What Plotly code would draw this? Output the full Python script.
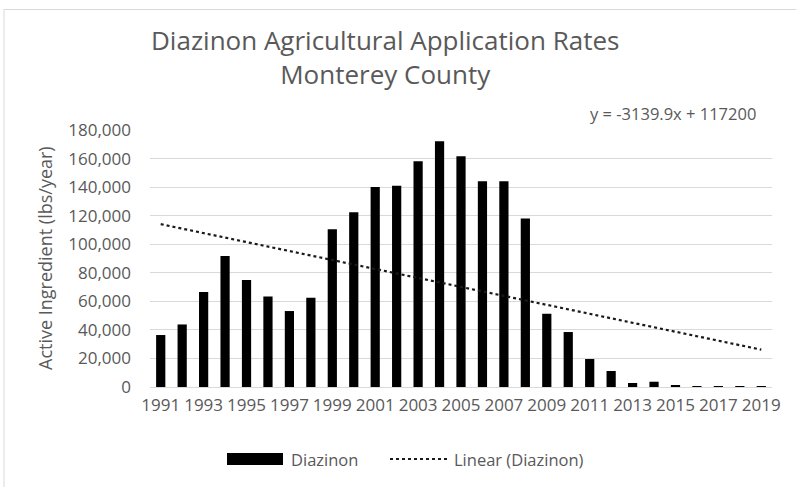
import plotly.graph_objects as go

years = list(range(1991, 2020))
diazinon = [36400, 43800, 66500, 91700, 74900, 63400, 53200, 62500, 110500, 122400,
            140100, 141000, 158100, 172100, 161600, 144100, 144100, 118000, 51300, 38500,
            19600, 11200, 2800, 3700, 800, 700, 600, 600, 500]
trend_slope = -3139.9
trend_intercept = 117200
trend_label = "y = -3139.9x + 117200"
title_lines = ["Diazinon Agricultural Application Rates", "Monterey County"]
y_title = "Active Ingredient (lbs/year)"
series_name = "Diazinon"
trend_name = "Linear (Diazinon)"

trend = [trend_slope * (i + 1) + trend_intercept for i in range(len(years))]

FONT = "Open Sans"
GRAY = "#595959"

fig = go.Figure()
fig.add_trace(go.Bar(x=years, y=diazinon, name=series_name, marker_color="#000000",
                     marker_line_width=0, showlegend=False))
fig.add_trace(go.Scatter(x=years, y=trend, mode="lines", name=trend_name,
                         line=dict(color="#1a1a1a", width=2.2, dash="dot"), showlegend=False))

W, H = 796, 487
L, R, T, B = 150, 24, 130, 100
pw = W - L - R
ph = H - T - B

def px(p):
    return (p - L) / pw

def py(q):
    return (H - B - q) / ph

shapes = [
    # chart border (top and left)
    dict(type="line", xref="paper", yref="paper", x0=px(4), x1=px(W + 5), y0=py(9.5), y1=py(9.5),
         line=dict(color="#d9d9d9", width=1)),
    dict(type="line", xref="paper", yref="paper", x0=px(4), x1=px(4), y0=py(9.5), y1=py(H + 5),
         line=dict(color="#d9d9d9", width=1)),
    # legend markers
    dict(type="rect", xref="paper", yref="paper", x0=px(227), x1=px(283), y0=py(465), y1=py(453),
         fillcolor="#000000", line=dict(width=0)),
    dict(type="line", xref="paper", yref="paper", x0=px(390), x1=px(447), y0=py(459), y1=py(459),
         line=dict(color="#1a1a1a", width=2, dash="dot")),
]

annotations = [
    dict(text="<br>".join(title_lines), xref="paper", yref="paper", x=px(385), y=py(57),
         xanchor="center", yanchor="middle", align="center", showarrow=False,
         font=dict(family=FONT, size=26, color=GRAY)),
    dict(text=trend_label, xref="paper", yref="paper", x=px(758), y=py(113), xanchor="right",
         yanchor="middle", showarrow=False, font=dict(family=FONT, size=16.5, color=GRAY)),
    dict(text=y_title, xref="paper", yref="paper", x=px(45), y=py(258), textangle=-90,
         xanchor="center", yanchor="middle", showarrow=False, font=dict(family=FONT, size=18, color=GRAY)),
    dict(text=series_name, xref="paper", yref="paper", x=px(289), y=py(459), xanchor="left",
         yanchor="middle", showarrow=False, font=dict(family=FONT, size=16.5, color=GRAY)),
    dict(text=trend_name, xref="paper", yref="paper", x=px(452), y=py(459), xanchor="left",
         yanchor="middle", showarrow=False, font=dict(family=FONT, size=16.5, color=GRAY)),
]

fig.update_layout(
    width=W, height=H,
    margin=dict(l=L, r=R, t=T, b=B),
    paper_bgcolor="white", plot_bgcolor="white",
    bargap=0.57,
    showlegend=False,
    font=dict(family=FONT, color=GRAY),
    shapes=shapes,
    annotations=annotations,
)
fig.update_xaxes(range=[1990.5, 2019.5], tickmode="linear", tick0=1991, dtick=2,
                 showgrid=False, showline=False, zeroline=False, ticks="",
                 tickfont=dict(family=FONT, size=17, color=GRAY), ticklabelstandoff=6)
fig.update_yaxes(range=[0, 180000], tickmode="linear", tick0=0, dtick=20000,
                 tickformat=",d", showgrid=True, gridcolor="#d9d9d9", gridwidth=1,
                 zeroline=True, zerolinecolor="#d9d9d9", zerolinewidth=1, showline=False, ticks="",
                 tickfont=dict(family=FONT, size=17, color=GRAY), ticklabelstandoff=18)

fig.write_html("out.html", config={"displayModeBar": False},
               post_script="document.body.style.margin='0';")
